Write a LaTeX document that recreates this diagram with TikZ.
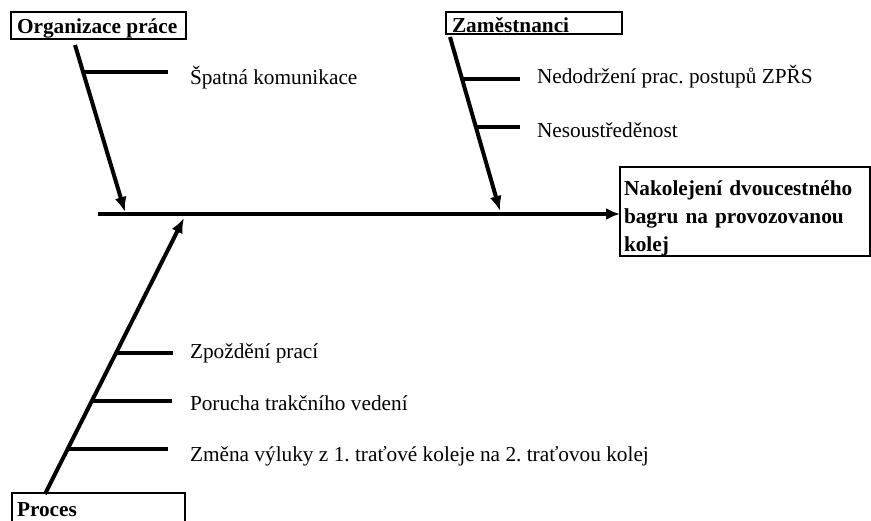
\documentclass[tikz,border=0pt]{standalone}
\usepackage{fontspec}
\setmainfont{Liberation Serif}
\usetikzlibrary{arrows.meta,calc}
\begin{document}
\frenchspacing
\begin{tikzpicture}[x=1pt,y=-1pt,
  every node/.style={inner sep=0pt,outer sep=0pt},
  txt/.style={font=\fontsize{21.3}{28}\selectfont\frenchspacing,anchor=base west},
  btxt/.style={font=\fontsize{21.3}{28}\selectfont\bfseries\frenchspacing,anchor=base west},
  box/.style={draw,line width=2pt,anchor=north west},
  cause/.style={line width=4pt,-{Latex[length=15pt,width=12pt]}},
  spine/.style={line width=4.5pt,-{Latex[length=14pt,width=12pt]}},
  twig/.style={line width=3.5pt}]
\useasboundingbox (0,0) rectangle (871,520);
% boxes
\node[box,minimum width=175pt,minimum height=27pt] (orgbox) at (11,12) {};
\node[btxt] (org) at (17,33) {Organizace práce};
\node[box,minimum width=176pt,minimum height=22pt] (zambox) at (446,12) {};
\node[btxt] (zam) at (452,32) {Zaměstnanci};
\node[box,minimum width=173pt,minimum height=40pt] (probox) at (12,493) {};
\node[btxt] (pro) at (17,516) {Proces};
\node[box,minimum width=250pt,minimum height=89pt] (effbox) at (620,167) {};
\node[btxt,text width=244pt,align=left] (eff) at (624,195) {Nakolejení dvoucestného\\bagru na provozovanou\\kolej};
% spine
\coordinate (s0) at (98,214);
\draw[spine] (s0) -- (s0 -| effbox.west);
% cause lines
\coordinate (o0) at (75,45);  \coordinate (o1) at (125,212);
\coordinate (z0) at (450,37); \coordinate (z1) at (500,211);
\coordinate (p0) at (45,494); \coordinate (p1) at (184,218);
\draw[cause] (o0) -- (o1);
\draw[cause] (z0) -- (z1);
\draw[cause] (p0) -- (p1);
% sub causes
\node[txt] (t1) at (190,84) {Špatná komunikace};
\draw[twig] (83,72) -- (168,72);
\node[txt] (t2) at (537,83) {Nedodržení prac. postupů ZPŘS};
\draw[twig] (462,79) -- (520,79);
\node[txt] (t3) at (537,137) {Nesoustředěnost};
\draw[twig] (476,127) -- (520,127);
\node[txt] (t4) at (190,358) {Zpoždění prací};
\draw[twig] (116,353) -- (173,353);
\node[txt] (t5) at (190,410) {Porucha trakčního vedení};
\draw[twig] (92,401) -- (172,401);
\node[txt] (t6) at (190,461) {Změna výluky z 1. traťové koleje na 2. traťovou kolej};
\draw[twig] (66,449) -- (168,449);
\end{tikzpicture}
\end{document}
